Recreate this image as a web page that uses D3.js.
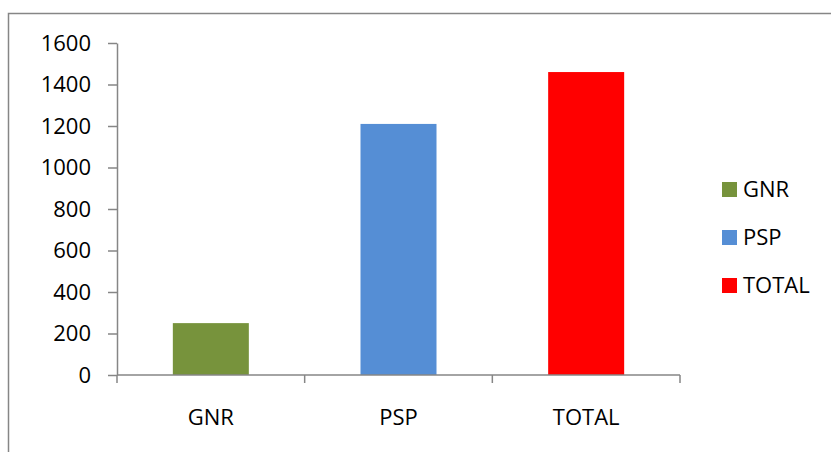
<!DOCTYPE html>
<html>
<head>
<meta charset="utf-8">
<script src="https://cdn.jsdelivr.net/npm/d3@7"></script>
<style>
	body { margin: 0; background: #fff; }
	svg text { font-family: "Open Sans", sans-serif; font-size: 22px; fill: #000; }
	.axis path, .axis line { stroke: #868686; stroke-width: 1.5; }
</style>
</head>
<body>
<div id="chart"></div>
<script>
// data
var categories = ['GNR', 'PSP', 'TOTAL'];
var values = [250, 1210, 1460];
var colors = ['#77933C', '#558ED5', '#FF0000'];
var yTicks = [0, 200, 400, 600, 800, 1000, 1200, 1400, 1600];

var w = 831, h = 452;
var plotLeft = 117, plotRight = 680, plotTop = 43, plotBottom = 375;

var svg = d3.select('#chart').append('svg')
	.attr('width', w)
	.attr('height', h);

// outer frame (runs off the picture at right and bottom)
svg.append('rect')
	.attr('x', 8.5).attr('y', 13.5)
	.attr('width', 840).attr('height', 460)
	.attr('fill', 'none')
	.attr('stroke', '#868686')
	.attr('stroke-width', 1.5);

var y = d3.scaleLinear().domain([0, 1600]).range([plotBottom, plotTop]);
var x = d3.scaleBand().domain(categories)
	.range([plotLeft, plotRight])
	.paddingInner(0.595)
	.paddingOuter(0.595 / 2);

// y axis
var yAxis = svg.append('g')
	.attr('class', 'axis')
	.attr('transform', 'translate(' + plotLeft + ',0)')
	.call(d3.axisLeft(y).tickValues(yTicks).tickFormat(d3.format('d'))
		.tickSize(9).tickSizeOuter(0).tickPadding(17));
yAxis.selectAll('text')
	.style('font-size', '22px')
	.style('font-family', '"Open Sans", sans-serif')
	.attr('fill', '#000');

// bars
svg.selectAll('rect.bar')
	.data(values)
	.enter()
	.append('rect')
	.attr('class', 'bar')
	.attr('x', function(d, i){ return x(categories[i]); })
	.attr('y', function(d){ return y(d); })
	.attr('width', x.bandwidth())
	.attr('height', function(d){ return plotBottom - y(d); })
	.attr('fill', function(d, i){ return colors[i]; });

// x axis with ticks between categories
var xb = d3.scaleLinear().domain([0, categories.length]).range([plotLeft, plotRight]);
var xAxis = svg.append('g').attr('class', 'axis');
xAxis.append('line')
	.attr('x1', plotLeft).attr('x2', plotRight)
	.attr('y1', plotBottom).attr('y2', plotBottom);
xAxis.selectAll('line.tick')
	.data(d3.range(categories.length + 1))
	.enter()
	.append('line')
	.attr('class', 'tick')
	.attr('x1', function(d){ return xb(d); })
	.attr('x2', function(d){ return xb(d); })
	.attr('y1', plotBottom).attr('y2', plotBottom + 8);
svg.selectAll('text.cat')
	.data(categories)
	.enter()
	.append('text')
	.attr('class', 'cat')
	.attr('x', function(d){ return x(d) + x.bandwidth() / 2; })
	.attr('y', 425)
	.attr('text-anchor', 'middle')
	.text(function(d){ return d; });

// legend
var legend = svg.selectAll('g.legend')
	.data(categories)
	.enter()
	.append('g')
	.attr('class', 'legend')
	.attr('transform', function(d, i){ return 'translate(722,' + (182 + i * 48) + ')'; });
legend.append('rect')
	.attr('width', 15).attr('height', 15)
	.attr('fill', function(d, i){ return colors[i]; });
legend.append('text')
	.attr('x', 21).attr('y', 15)
	.text(function(d){ return d; });
</script>
</body>
</html>
